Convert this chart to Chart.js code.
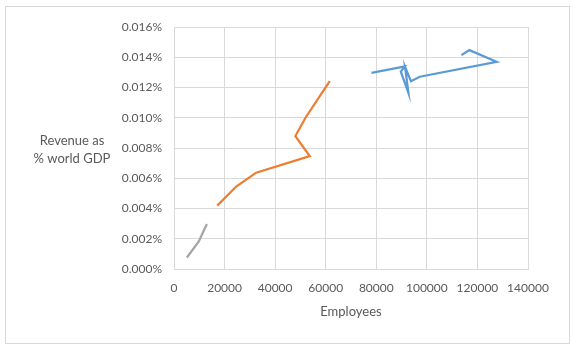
<!DOCTYPE html>
<html>
<head>
<meta charset="utf-8">
<script src="https://cdn.jsdelivr.net/npm/chart.js@4/dist/chart.umd.min.js"></script>
<style>
  html, body { margin: 0; padding: 0; background: #fff; }
  #wrap { width: 574px; height: 352px; }
</style>
</head>
<body>
<div id="wrap"><canvas id="chart" width="574" height="352"></canvas></div>
<script>
// employees vs revenue (% of world GDP)
const blueX = [78100, 91300, 89700, 92700, 91400, 93700, 97200, 127600, 116800, 113700];
const blueY = [0.01297, 0.01340, 0.01305, 0.01165, 0.01335, 0.01242, 0.01271, 0.01370, 0.01447, 0.01414];

const orangeX = [17100, 24600, 32500, 53700, 48000, 52000, 61600];
const orangeY = [0.00419, 0.00545, 0.00637, 0.00747, 0.00879, 0.01000, 0.01242];

const greyX = [5100, 9800, 13000];
const greyY = [0.00076, 0.00182, 0.00298];

const xTicks = [0, 20000, 40000, 60000, 80000, 100000, 120000, 140000];
const yTicks = [0, 0.002, 0.004, 0.006, 0.008, 0.010, 0.012, 0.014, 0.016];

const yTitle = ['Revenue as', '% world GDP'];
const xTitle = 'Employees';

const FONT = 'Lato, "Open Sans", sans-serif';
const TEXT = '#595959';
const GRID = '#d9d9d9';

function pts(xs, ys) {
  return xs.map((x, i) => ({ x: x, y: ys[i] }));
}

function line(label, xs, ys, color) {
  return {
    label: label,
    data: pts(xs, ys),
    showLine: true,
    borderColor: color,
    backgroundColor: color,
    borderWidth: 2.25,
    pointRadius: 0,
    tension: 0
  };
}

const frame = {
  id: 'frame',
  afterDraw(chart) {
    const ctx = chart.ctx;
    const a = chart.chartArea;
    ctx.save();
    // outer border
    ctx.strokeStyle = GRID;
    ctx.lineWidth = 1;
    ctx.strokeRect(5.5, 6.5, 564, 337);
    // titles
    ctx.fillStyle = TEXT;
    ctx.font = '13px ' + FONT;
    ctx.textAlign = 'center';
    ctx.textBaseline = 'middle';
    ctx.fillText(yTitle[0], 72, 141);
    ctx.fillText(yTitle[1], 72, 159);
    ctx.fillText(xTitle, (a.left + a.right) / 2, 312);
    ctx.restore();
  }
};

new Chart(document.getElementById('chart'), {
  type: 'scatter',
  data: {
    datasets: [
      line('Blue', blueX, blueY, '#5b9bd5'),
      line('Orange', orangeX, orangeY, '#ed7d31'),
      line('Grey', greyX, greyY, '#a5a5a5')
    ]
  },
  options: {
    responsive: false,
    animation: false,
    layout: { padding: { left: 0, top: 27, right: 46, bottom: 0 } },
    plugins: {
      legend: { display: false },
      tooltip: { enabled: false }
    },
    scales: {
      x: {
        type: 'linear',
        min: 0,
        max: 140000,
        afterBuildTicks: (scale) => { scale.ticks = xTicks.map(v => ({ value: v })); },
        afterFit: (scale) => { scale.height = 83; },
        grid: { color: GRID, drawTicks: false },
        border: { color: GRID },
        ticks: {
          color: TEXT,
          font: { family: FONT, size: 12 },
          padding: 12,
          maxRotation: 0,
          callback: (v) => String(v)
        }
      },
      y: {
        type: 'linear',
        min: 0,
        max: 0.016,
        afterBuildTicks: (scale) => { scale.ticks = yTicks.map(v => ({ value: v })); },
        afterFit: (scale) => { scale.width = 174; },
        grid: { color: GRID, drawTicks: false },
        border: { color: GRID },
        ticks: {
          color: TEXT,
          font: { family: FONT, size: 12 },
          padding: 12,
          callback: (v) => v.toFixed(3) + '%'
        }
      }
    }
  },
  plugins: [frame]
});
</script>
</body>
</html>
